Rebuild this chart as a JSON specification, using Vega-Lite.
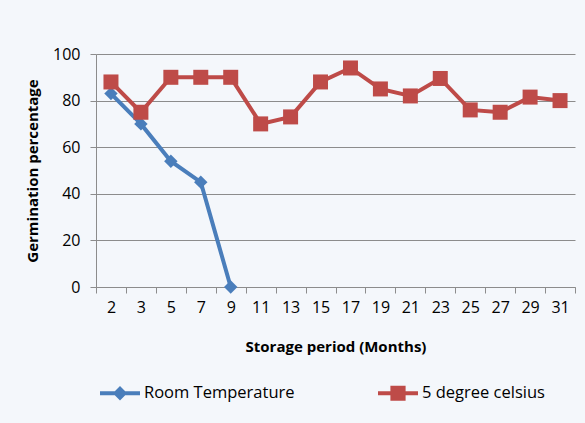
{
  "$schema": "https://vega.github.io/schema/vega-lite/v6.json",
  "width": 479,
  "height": 233,
  "autosize": {"type": "none"},
  "padding": {"left": 96, "top": 54, "right": 10, "bottom": 136},
  "background": "#F4F7FB",
  "config": {
    "view": {"stroke": null},
    "font": "Open Sans",
    "axis": {
      "labelColor": "#000000",
      "titleColor": "#000000",
      "labelFontSize": 16,
      "titleFontSize": 15,
      "titleFontWeight": "bold",
      "domainColor": "#8C8C8C",
      "tickColor": "#8C8C8C",
      "gridColor": "#8C8C8C",
      "gridOpacity": 1,
      "tickSize": 6
    }
  },
  "data": {
    "values": [
      {"series": "Room Temperature", "month": 2, "pct": 83},
      {"series": "Room Temperature", "month": 3, "pct": 70},
      {"series": "Room Temperature", "month": 5, "pct": 54},
      {"series": "Room Temperature", "month": 7, "pct": 45},
      {"series": "Room Temperature", "month": 9, "pct": 0},
      {"series": "5 degree celsius", "month": 2, "pct": 88},
      {"series": "5 degree celsius", "month": 3, "pct": 75},
      {"series": "5 degree celsius", "month": 5, "pct": 90},
      {"series": "5 degree celsius", "month": 7, "pct": 90},
      {"series": "5 degree celsius", "month": 9, "pct": 90},
      {"series": "5 degree celsius", "month": 11, "pct": 70},
      {"series": "5 degree celsius", "month": 13, "pct": 73},
      {"series": "5 degree celsius", "month": 15, "pct": 88},
      {"series": "5 degree celsius", "month": 17, "pct": 94},
      {"series": "5 degree celsius", "month": 19, "pct": 85},
      {"series": "5 degree celsius", "month": 21, "pct": 82},
      {"series": "5 degree celsius", "month": 23, "pct": 89.5},
      {"series": "5 degree celsius", "month": 25, "pct": 76},
      {"series": "5 degree celsius", "month": 27, "pct": 75},
      {"series": "5 degree celsius", "month": 29, "pct": 81.5},
      {"series": "5 degree celsius", "month": 31, "pct": 80}
    ]
  },
  "encoding": {
    "x": {
      "field": "month",
      "type": "ordinal",
      "scale": {"type": "band", "paddingInner": 0, "paddingOuter": 0},
      "axis": {
        "title": "Storage period (Months)",
        "labelAngle": 0,
        "tickBand": "extent",
        "grid": false,
        "labelPadding": 6,
        "titlePadding": 24
      }
    },
    "y": {
      "field": "pct",
      "type": "quantitative",
      "scale": {"domain": [0, 100], "nice": false},
      "axis": {
        "title": "Germination percentage",
        "values": [0, 20, 40, 60, 80, 100],
        "grid": true,
        "labelPadding": 10,
        "titlePadding": 12
      }
    },
    "color": {
      "field": "series",
      "type": "nominal",
      "scale": {"domain": ["Room Temperature", "5 degree celsius"], "range": ["#4A7EBB", "#BE4B48"]}
    }
  },
  "layer": [
    {
      "mark": {"type": "line", "strokeWidth": 4},
      "encoding": {}
    },
    {
      "transform": [{"filter": "datum.series === 'Room Temperature'"}],
      "mark": {"type": "point", "filled": true, "opacity": 1, "shape": "diamond", "size": 180},
      "encoding": {}
    },
    {
      "transform": [{"filter": "datum.series === '5 degree celsius'"}],
      "mark": {"type": "point", "filled": true, "opacity": 1, "shape": "square", "size": 225},
      "encoding": {}
    },
    {
      "transform": [{"filter": "datum.pct < 0"}],
      "mark": {"type": "point", "filled": true, "opacity": 1},
      "encoding": {
        "color": {
          "field": "series",
          "type": "nominal",
          "scale": {"domain": ["Room Temperature", "5 degree celsius"], "range": ["#4A7EBB", "#BE4B48"]},
          "legend": {
            "orient": "none",
            "legendX": 4,
            "legendY": 319,
            "direction": "horizontal",
            "title": null,
            "columnPadding": 83,
            "labelFontSize": 16.5,
            "labelColor": "#000000",
            "labelOffset": 4,
            "symbolSize": 1600,
            "symbolStrokeWidth": 0
          }
        },
        "shape": {
          "field": "series",
          "type": "nominal",
          "scale": {
            "domain": ["Room Temperature", "5 degree celsius"],
            "range": [
              "M-1,-0.1H1V0.1H-1Z M0,-0.36L0.36,0L0,0.36L-0.36,0Z",
              "M-1,-0.1H1V0.1H-1Z M-0.38,-0.38H0.38V0.38H-0.38Z"
            ]
          }
        }
      }
    }
  ]
}
